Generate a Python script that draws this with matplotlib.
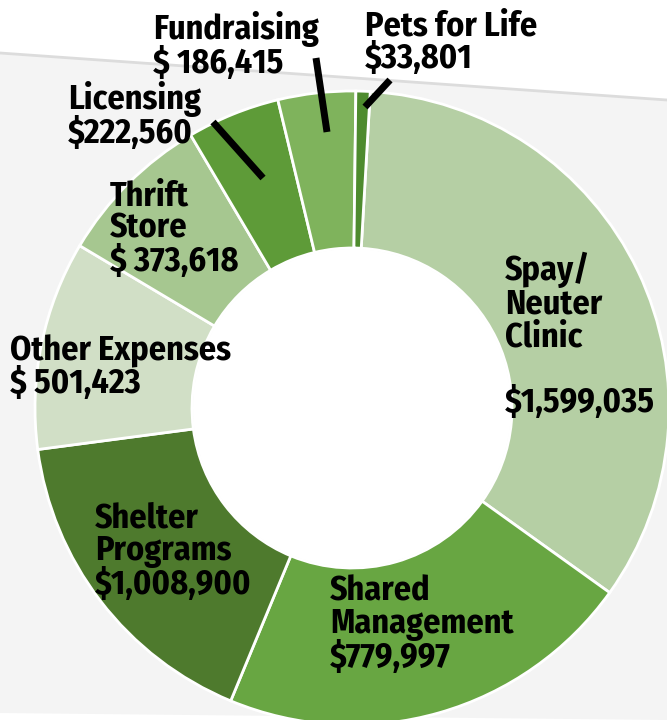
import matplotlib
matplotlib.use("Agg")
import matplotlib.pyplot as plt
from matplotlib.patches import Polygon, Circle

# printed labels (amounts as shown on the chart)
names = ["Spay/\nNeuter\nClinic\n", "Shared\nManagement", "Shelter\nPrograms",
         "Other Expenses", "Thrift\nStore", "Licensing", "Fundraising", "Pets for Life"]
amounts = ["$1,599,035", "$779,997", "$1,008,900", "$ 501,423",
           "$ 373,618", "$222,560", "$ 186,415", "$33,801"]
# wedge sizes as drawn in the picture (thousands of $); the original draws the
# Shared / Shelter wedges the other way round from their printed amounts
wedge_sizes = [1599, 1005, 784, 501, 374, 223, 186, 34]
colors = ["#b5cfa4", "#68a642", "#4e7a2d", "#d1dfc6",
          "#a6c790", "#5e9b38", "#7fb35c", "#4e8b2e"]

W, H = 667, 720
fig = plt.figure(figsize=(W / 100, H / 100), dpi=100)
ax = fig.add_axes([0, 0, 1, 1])

# faint grey page band behind the chart
band = Polygon([(0, 53), (W, 100), (W, H), (0, 713)], closed=True,
               facecolor="#f4f4f4", edgecolor="none", zorder=0)
ax.add_patch(band)
ax.plot([0, W], [53, 100], color="#dcdcdc", lw=2, zorder=0.5)

cx, cy, R, r = 352, 408, 317, 160
# y axis is flipped below, so counterclock=True runs clockwise on screen
ax.pie(wedge_sizes, colors=colors, startangle=-86.7, counterclock=True,
       center=(cx, cy), radius=R,
       wedgeprops=dict(width=R - r, edgecolor="white", linewidth=2))
ax.add_patch(Circle((cx, cy), r - 1, facecolor="white", edgecolor="none", zorder=3))

font = dict(family=["Fira Sans Condensed", "DejaVu Sans"],
            fontweight="bold", fontsize=24.5, color="black",
            va="top", ha="left", linespacing=0.97, zorder=5)

label_pos = [(505, 252), (330, 574), (95, 501), (10, 334),
             (110, 179), (68, 81), (153, 11), (365, 9)]
for name, amt, (x, y) in zip(names, amounts, label_pos):
    ax.text(x, y, name + "\n" + amt, **font)

# leader lines
leaders = [((316, 58), (327, 132)), ((390, 80), (365, 107)), ((213, 122), (263, 178))]
for (x0, y0), (x1, y1) in leaders:
    ax.plot([x0, x1], [y0, y1], color="black", lw=5, solid_capstyle="butt", zorder=6)

ax.set_xlim(0, W)
ax.set_ylim(H, 0)
ax.set_aspect("equal")
ax.axis("off")

fig.savefig("out.png", dpi=100)
